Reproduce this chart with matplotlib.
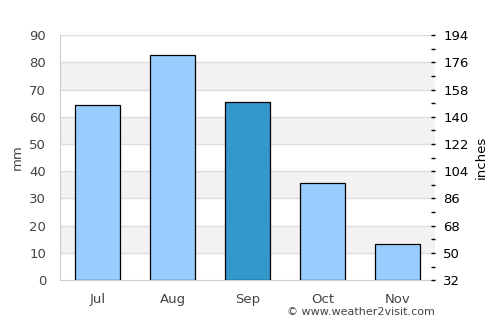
import matplotlib
matplotlib.use("Agg")
import matplotlib.pyplot as plt
from matplotlib.ticker import FixedLocator

months = ["Jul", "Aug", "Sep", "Oct", "Nov"]
rain_mm = [64.2, 82.6, 65.3, 35.6, 13.2]
bar_colors = ["#99ccff", "#99ccff", "#3399cc", "#99ccff", "#99ccff"]
right_ticks = [32, 50, 68, 86, 104, 122, 140, 158, 176, 194]
right_minor = [41, 59, 77, 95, 113, 131, 149, 167, 185]

fig = plt.figure(figsize=(5, 3.25), dpi=100)
ax = fig.add_axes([0.12, 0.138, 0.75, 0.754])

# alternating bands and grid
for lo in range(10, 90, 20):
    ax.axhspan(lo, lo + 10, color="#f2f2f2", zorder=0, lw=0)
for y in range(10, 100, 10):
    ax.axhline(y, color="#dddddd", lw=1, zorder=1)

x = list(range(len(months)))
ax.bar(x, rain_mm, width=0.6, color=bar_colors, edgecolor="black", linewidth=0.9, zorder=3)

ax.set_xlim(-0.5, 4.5)
ax.set_ylim(0, 90)
ax.set_yticks(range(0, 100, 10))
ax.set_xticks(x)
ax.set_xticklabels(months)
ax.tick_params(axis="x", length=0, pad=9, colors="#444444", labelsize=9.5)
ax.tick_params(axis="y", length=0, pad=10, colors="#444444", labelsize=9.5)
ax.set_ylabel("mm", color="#444444", fontsize=9.5, labelpad=4)

for s in ["top", "right"]:
    ax.spines[s].set_visible(False)
ax.spines["left"].set_color("#cccccc")
ax.spines["bottom"].set_color("#cccccc")

ax2 = ax.twinx()
ax2.set_ylim(32, 194)
ax2.set_yticks(right_ticks)
ax2.yaxis.set_minor_locator(FixedLocator(right_minor))
ax2.tick_params(axis="y", which="major", length=3, width=1, direction="in", labelsize=9.5, colors="black", pad=6)
ax2.tick_params(axis="y", which="minor", length=3, width=1, direction="in")
for s in ["top", "right", "left", "bottom"]:
    ax2.spines[s].set_visible(False)
ax2.set_ylabel("inches", fontsize=9.5, labelpad=4)

fig.text(0.87, 0.025, "© www.weather2visit.com", ha="right", va="bottom", fontsize=8, color="#444444")

fig.savefig("out.png", dpi=100)
